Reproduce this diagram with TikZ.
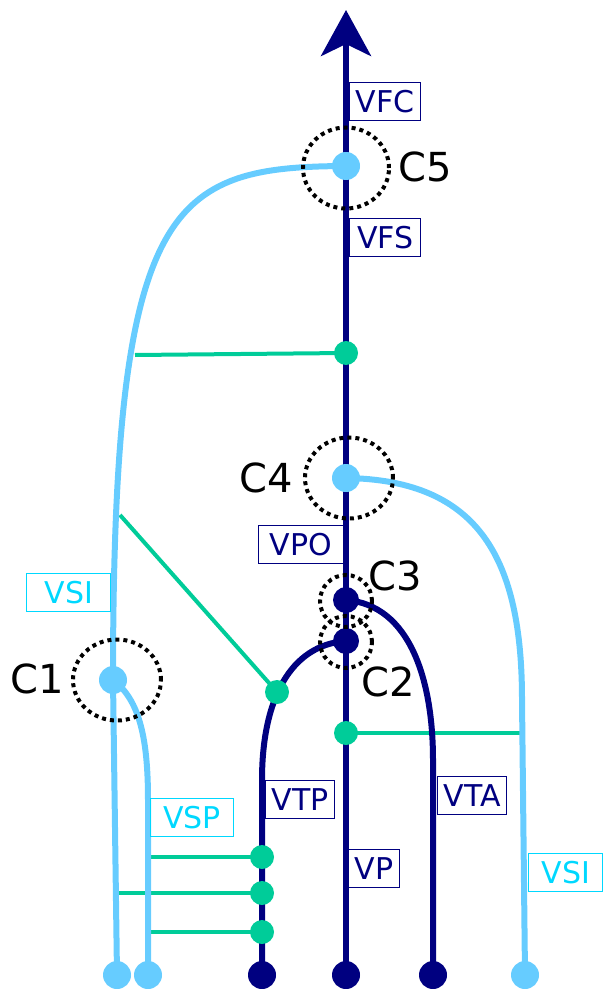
\documentclass[tikz,border=0pt]{standalone}
\usepackage{fontspec}
\setmainfont{DejaVu Sans}
\usetikzlibrary{arrows.meta,backgrounds,shapes.geometric}

\definecolor{navy}{HTML}{000080}
\definecolor{skyblue}{HTML}{66CCFF}
\definecolor{mint}{HTML}{00CC99}
\definecolor{aqua}{HTML}{00D8FF}

\begin{document}
\begin{tikzpicture}[x=0.5pt,y=-0.5pt,
    blob/.style={circle,fill,inner sep=0pt,minimum size=14pt},
    ring/.style={ellipse,draw=black,dotted,line width=2pt,inner sep=0pt},
    tag/.style={draw,line width=0.7pt,font=\fontsize{15}{15}\selectfont,
      inner xsep=3pt,minimum height=19pt,anchor=north west},
    lbl/.style={font=\fontsize{20}{20}\selectfont},
    vessel/.style={line width=3pt},
    link/.style={mint,line width=2pt}]

      \useasboundingbox (0,0) rectangle (602,989);

      % dots at the feet
      \begin{scope}[every node/.style={blob}]
        \node[skyblue] (b1) at (117,975) {};
        \node[skyblue] (b2) at (148,975) {};
        \node[navy]    (b3) at (262,975) {};
        \node[navy]    (b4) at (346,975) {};
        \node[navy]    (b5) at (433,975) {};
        \node[skyblue] (b6) at (525,975) {};
      \end{scope}

      % junctions
      \begin{scope}[every node/.style={blob}]
        \node[skyblue] (c1) at (113,680) {};
        \node[navy,minimum size=13pt] (c2) at (346,641) {};
        \node[navy,minimum size=13pt] (c3) at (346,600) {};
        \node[skyblue] (c4) at (346,478) {};
        \node[skyblue] (c5) at (346,166) {};
      \end{scope}

      % green links
      \begin{scope}[every node/.style={blob,mint,minimum size=12pt}]
        \node (g1) at (346,353) {};
        \node (g2) at (277,692) {};
        \node (g3) at (346,733) {};
        \node (g4) at (262,857) {};
        \node (g5) at (262,893) {};
        \node (g6) at (262,932) {};
      \end{scope}

      \coordinate (s1) at (135,355);
      \coordinate (s2) at (120,515);
      \coordinate (s3) at (525,733);
      \coordinate (s4) at (148,857);
      \coordinate (s5) at (116,893);
      \coordinate (s6) at (148,932);
      \coordinate (tip) at (346,10);

      \begin{scope}[on background layer]
        \draw[link] (s1) -- (g1.center);
        \draw[link] (s2) -- (g2.center);
        \draw[link] (g3.center) -- (s3);
        \draw[link] (s4) -- (g4.center);
        \draw[link] (s5) -- (g5.center);
        \draw[link] (s6) -- (g6.center);

        \draw[vessel,skyblue] (b1.center) -- (c1.center)
          .. controls (113,200) and (170,167) .. (c5.center);
        \draw[vessel,skyblue] (c1.center) .. controls (140,700) and (148,740) .. (148,800)
          -- (b2.center);
        \draw[vessel,skyblue] (c4.center) .. controls (480,480) and (522,560) .. (522,700)
          -- (b6.center);
        \draw[vessel,navy] (b3.center) -- (262,780)
          .. controls (262,700) and (290,645) .. (c2.center);
        \draw[vessel,navy] (c3.center) .. controls (410,605) and (433,680) .. (433,760)
          -- (b5.center);
        \draw[vessel,navy,-{Stealth[length=23pt,width=25pt,inset=6pt]}] (b4.center) -- (tip);
      \end{scope}

      % dotted rings
      \begin{scope}[every node/.style={ring}]
        \node[minimum width=44pt,minimum height=40.5pt] (r1) at (117,680) {};
        \node[minimum width=26pt,minimum height=26pt]   (r2) at (346,642) {};
        \node[minimum width=26pt,minimum height=26pt]   (r3) at (346,601) {};
        \node[minimum width=44pt,minimum height=40.5pt] (r4) at (349,478) {};
        \node[minimum width=43pt,minimum height=40.5pt] (r5) at (346,168) {};
      \end{scope}

      \begin{scope}[every node/.style={lbl}]
        \node (l1) at (37,679) {C1};
        \node (l2) at (388,682) {C2};
        \node (l3) at (395,576) {C3};
        \node (l4) at (266,478) {C4};
        \node (l5) at (425,167) {C5};
      \end{scope}

      % vessel names
      \begin{scope}[every node/.style={tag,navy}]
        \node[minimum width=35.5pt] (vfc) at (349,82) {VFC};
        \node[minimum width=35.5pt] (vfs) at (349,218) {VFS};
        \node[anchor=north east,minimum width=42.5pt] (vpo) at (344,525) {VPO};
        \node (vtp) at (265,780) {VTP};
        \node (vta) at (437,776) {VTA};
        \node (vp) at (348,849) {VP};
      \end{scope}
      \begin{scope}[every node/.style={tag,aqua}]
        \node[minimum width=42pt] (vsi1) at (26,573) {VSI};
        \node[minimum width=41.5pt] (vsp) at (150,798) {VSP};
        \node[minimum width=37pt] (vsi2) at (528,853) {VSI};
      \end{scope}

    \end{tikzpicture}
\end{document}
